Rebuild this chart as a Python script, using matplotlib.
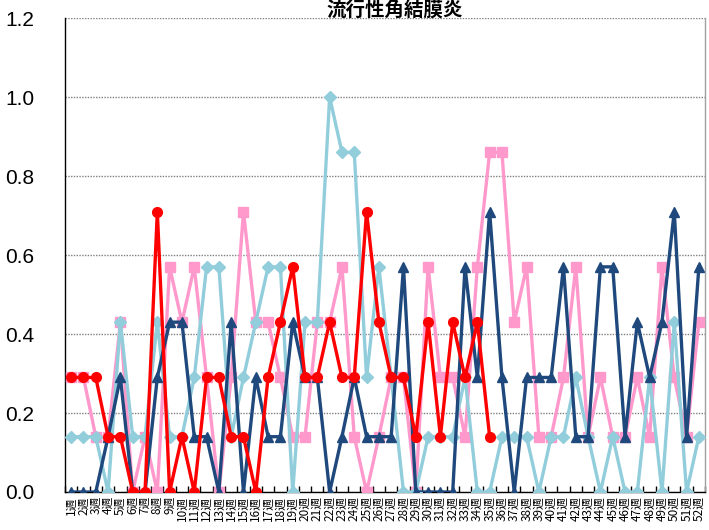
import matplotlib
matplotlib.use('Agg')
import matplotlib.pyplot as plt
import numpy as np

# weekly values per series
weeks = [f'{i}週' for i in range(1, 53)]

pink = [0.29, 0.29, 0.14, 0.14, 0.43, 0.0, 0.14, 0.0, 0.57, 0.43,
        0.57, 0.29, 0.0, 0.29, 0.71, 0.43, 0.43, 0.29, 0.14, 0.14,
        0.43, 0.43, 0.57, 0.14, 0.0, 0.14, 0.29, 0.29, 0.0, 0.57,
        0.29, 0.29, 0.14, 0.57, 0.86, 0.86, 0.43, 0.57, 0.14, 0.14,
        0.29, 0.57, 0.14, 0.29, 0.14, 0.14, 0.29, 0.14, 0.57, 0.29,
        0.14, 0.43]

light_blue = [0.14, 0.14, 0.14, 0.0, 0.43, 0.14, 0.14, 0.43, 0.14, 0.14,
              0.29, 0.57, 0.57, 0.14, 0.29, 0.43, 0.57, 0.57, 0.0, 0.43,
              0.43, 1.0, 0.86, 0.86, 0.29, 0.57, 0.29, 0.0, 0.0, 0.14,
              0.14, 0.14, 0.29, 0.0, 0.0, 0.14, 0.14, 0.14, 0.0, 0.14,
              0.14, 0.29, 0.14, 0.0, 0.14, 0.0, 0.0, 0.29, 0.0, 0.43,
              0.0, 0.14]

navy = [0.0, 0.0, 0.0, 0.14, 0.29, 0.0, 0.0, 0.29, 0.43, 0.43,
        0.14, 0.14, 0.0, 0.43, 0.0, 0.29, 0.14, 0.14, 0.43, 0.29,
        0.29, 0.0, 0.14, 0.29, 0.14, 0.14, 0.14, 0.57, 0.0, 0.0,
        0.0, 0.0, 0.57, 0.29, 0.71, 0.29, 0.0, 0.29, 0.29, 0.29,
        0.57, 0.14, 0.14, 0.57, 0.57, 0.14, 0.43, 0.29, 0.43, 0.71,
        0.14, 0.57]

# current year, only up to week 35
red = [0.29, 0.29, 0.29, 0.14, 0.14, 0.0, 0.0, 0.71, 0.0, 0.14,
       0.0, 0.29, 0.29, 0.14, 0.14, 0.0, 0.29, 0.43, 0.57, 0.29,
       0.29, 0.43, 0.29, 0.29, 0.71, 0.43, 0.29, 0.29, 0.14, 0.43,
       0.14, 0.43, 0.29, 0.43, 0.14]

yticks = [0.0, 0.2, 0.4, 0.6, 0.8, 1.0, 1.2]

plt.rcParams['font.family'] = ['Liberation Sans', 'Noto Sans CJK JP', 'DejaVu Sans']

fig = plt.figure(figsize=(7.09, 5.30), dpi=100)
ax = fig.add_axes([0.0917, 0.0717, 0.9027, 0.8943])

x = np.arange(1, 53)
lw = 2.4
ax.plot(x, pink, color='#FF99CC', lw=lw, marker='s', ms=7, zorder=3)
ax.plot(x, light_blue, color='#92CDDC', lw=lw, marker='D', ms=6.5, zorder=4)
ax.plot(x, navy, color='#1F497D', lw=lw, marker='^', ms=7.5, zorder=5)
ax.plot(x[:len(red)], red, color='#FF0000', lw=lw, marker='o', ms=7, zorder=6)

ax.set_xlim(0.5, 52.5)
ax.set_ylim(0, 1.2)
ax.set_yticks(yticks)
ax.set_yticklabels([f'{v:.1f}' for v in yticks], fontsize=15)
ax.tick_params(axis='y', length=0, pad=22)

ax.set_xticks(x)
ax.set_xticklabels(weeks, rotation=90, fontsize=8.5,
                   family=['Noto Sans CJK JP', 'DejaVu Sans'])
ax.tick_params(axis='x', which='major', length=0, pad=3)
ax.set_xticks(np.arange(0.5, 53, 1), minor=True)
ax.tick_params(axis='x', which='minor', direction='in', length=4, width=1, color='black')

ax.grid(axis='y', linestyle=(0, (1, 1)), color='#808080', lw=1, zorder=0)
ax.set_axisbelow(True)

ax.spines['top'].set_visible(False)
ax.spines['right'].set_color('#A0A0A0')
ax.spines['left'].set_color('black')
ax.spines['bottom'].set_color('black')
for s in ax.spines.values():
    s.set_linewidth(1)

fig.text(0.557, 0.999, '流行性角結膜炎', ha='center', va='top',
         fontsize=14, fontweight='bold', family=['Noto Sans CJK JP'])

fig.savefig('out.png', dpi=100)
